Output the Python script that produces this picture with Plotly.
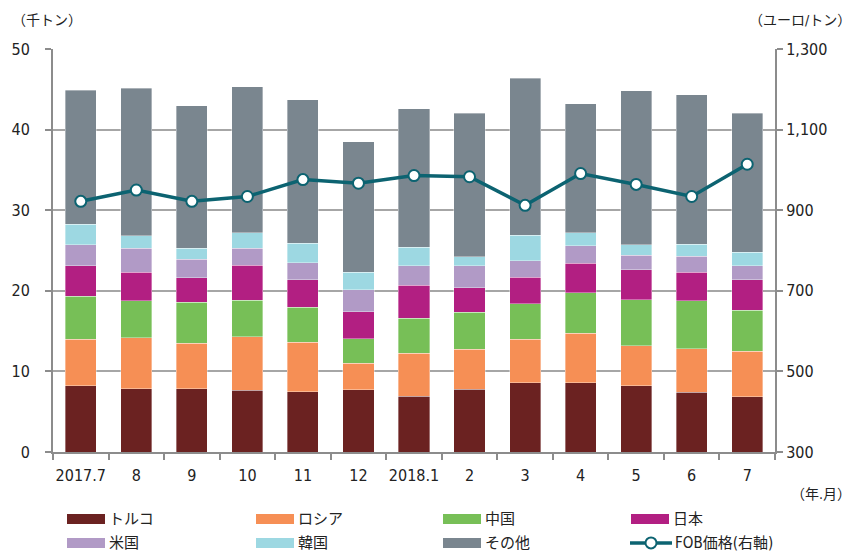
import plotly.graph_objects as go

categories = ["2017.7", "8", "9", "10", "11", "12", "2018.1", "2", "3", "4", "5", "6", "7"]
turkey = [8.2, 7.84, 7.84, 7.68, 7.47, 7.72, 6.9, 7.8, 8.6, 8.59, 8.2, 7.43, 6.85]
russia = [5.8, 6.32, 5.63, 6.62, 6.13, 3.28, 5.37, 4.93, 5.4, 6.16, 5.0, 5.37, 5.65]
china = [5.3, 4.59, 5.12, 4.5, 4.37, 3.04, 4.3, 4.62, 4.4, 4.99, 5.7, 5.95, 5.1]
japan = [3.8, 3.55, 3.0, 4.4, 3.38, 3.36, 4.09, 3.05, 3.3, 3.66, 3.7, 3.55, 3.8]
usa = [2.6, 3.0, 2.35, 2.1, 2.15, 2.7, 2.44, 2.7, 2.05, 2.16, 1.8, 2.0, 1.7]
korea = [2.55, 1.5, 1.35, 1.9, 2.4, 2.2, 2.3, 1.1, 3.15, 1.64, 1.3, 1.5, 1.7]
others = [16.65, 18.3, 17.66, 18.1, 17.8, 16.2, 17.2, 17.8, 19.5, 16.0, 19.1, 18.5, 17.2]
fob_price = [922, 950, 922, 934, 976, 967, 986, 983, 912, 991, 964, 934, 1014]

series_names = ["トルコ", "ロシア", "中国", "日本", "米国", "韓国", "その他"]
line_name = "FOB価格(右軸)"
series_values = [turkey, russia, china, japan, usa, korea, others]
colors = ["#6B2221", "#F68F55", "#77BF57", "#B21F82", "#B19AC6", "#9DD8E2", "#7A868F"]
line_color = "#0C6371"

FONT = "DejaVu Sans Condensed, Noto Sans CJK JP, sans-serif"
TXT = "#222222"

# plot area in pixels
L, R, T, B = 53, 775, 48.5, 452
W, H = 855, 554


def px(x):
    return (x - L) / (R - L)


def py(y):
    return (B - y) / (B - T)


fig = go.Figure()
for name, vals, col in zip(series_names, series_values, colors):
    fig.add_trace(go.Bar(
        x=categories, y=vals, name=name, marker_color=col,
        marker_line=dict(width=0.6, color="rgba(255,255,255,0.6)"),
        showlegend=False, yaxis="y"))

fig.add_trace(go.Scatter(
    x=categories, y=fob_price, name=line_name, yaxis="y2", mode="lines+markers",
    line=dict(color=line_color, width=3.5),
    marker=dict(symbol="circle", size=11, color="white", line=dict(color=line_color, width=2)),
    showlegend=False))

shapes = []
annotations = []

# manual legend
col_x = [67, 256, 443, 631]
row_y = [519, 543]
legend_items = list(zip(series_names, colors)) + [(line_name, None)]
for i, (name, col) in enumerate(legend_items):
    cx = col_x[i % 4]
    cy = row_y[i // 4]
    if col is not None:
        shapes.append(dict(type="rect", xref="paper", yref="paper",
                           x0=px(cx), x1=px(cx + 38), y0=py(cy + 5), y1=py(cy - 5),
                           fillcolor=col, line=dict(width=0)))
        tx = cx + 40
    else:
        shapes.append(dict(type="line", xref="paper", yref="paper",
                           x0=px(cx - 1), x1=px(cx + 41), y0=py(cy), y1=py(cy),
                           line=dict(color=line_color, width=3.5)))
        shapes.append(dict(type="circle", xref="paper", yref="paper",
                           x0=px(cx + 14.5), x1=px(cx + 25.5), y0=py(cy + 5.5), y1=py(cy - 5.5),
                           fillcolor="white", line=dict(color=line_color, width=2)))
        tx = cx + 42
    annotations.append(dict(x=px(tx), y=py(cy), xref="paper", yref="paper",
                            text=name, showarrow=False, xanchor="left", yanchor="middle",
                            font=dict(family=FONT, size=15, color=TXT)))

annotations += [
    dict(x=px(10), y=py(19), xref="paper", yref="paper", text="（千トン）", showarrow=False,
         xanchor="left", yanchor="middle", font=dict(family=FONT, size=14, color=TXT)),
    dict(x=px(853), y=py(19), xref="paper", yref="paper", text="（ユーロ/トン）", showarrow=False,
         xanchor="right", yanchor="middle", font=dict(family=FONT, size=14, color=TXT)),
    dict(x=px(853), y=py(494), xref="paper", yref="paper", text="（年.月）", showarrow=False,
         xanchor="right", yanchor="middle", font=dict(family=FONT, size=14, color=TXT)),
]

axis_common = dict(ticks="outside", ticklen=6, tickcolor="#8C8C8C", tickwidth=1.5,
                   showline=True, linecolor="#8C8C8C", linewidth=2, automargin=False,
                   tickfont=dict(family=FONT, size=16, color=TXT))

fig.update_layout(
    width=W, height=H,
    margin=dict(l=L, r=W - R, t=T, b=H - B, pad=0, autoexpand=False),
    paper_bgcolor="white", plot_bgcolor="white",
    barmode="stack", bargap=0.44,
    font=dict(family=FONT, size=16, color=TXT),
    shapes=shapes, annotations=annotations,
    xaxis=dict(type="category", range=[-0.5, len(categories) - 0.5], tickson="boundaries",
               showgrid=False, tickangle=0, ticklabelstandoff=8, **axis_common),
    yaxis=dict(range=[0, 50], dtick=10, tick0=0, showgrid=True, gridcolor="#A6A6A6",
               gridwidth=1.5, zeroline=False, ticklabelstandoff=12, **axis_common),
    yaxis2=dict(range=[300, 1300], dtick=200, tick0=300, tickformat=",", overlaying="y",
                side="right", showgrid=False, zeroline=False, ticklabelstandoff=0,
                **axis_common),
)

fig.write_html("out.html", config={"displayModeBar": False},
               post_script="document.body.style.margin='0';document.body.style.padding='0';")
